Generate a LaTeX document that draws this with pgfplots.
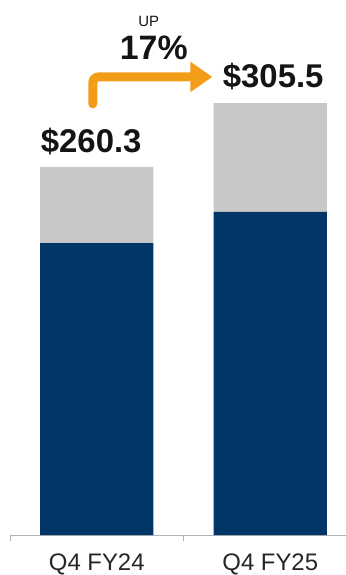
\documentclass[border=0pt]{standalone}
\usepackage{fontspec}
\setmainfont{Liberation Sans}
\usepackage{pgfplots}
\pgfplotsset{compat=1.18}
\usetikzlibrary{arrows.meta}
\definecolor{navy}{RGB}{2,54,103}
\definecolor{lgrey}{RGB}{200,200,200}
\definecolor{orng}{RGB}{243,156,24}
\definecolor{txt}{RGB}{20,20,20}
\begin{document}
\begin{tikzpicture}
\path[use as bounding box] (-10bp,-40bp) rectangle (336bp,535bp);
\begin{axis}[
  at={(0,0)}, anchor=south west,
  scale only axis, width=336bp, height=535bp,
  xmin=-0.5, xmax=1.4366, ymin=0, ymax=378.4,
  ybar stacked, bar width=0.652,
  axis y line=none, axis x line*=bottom,
  axis line style={draw=black!30, line width=0.8bp},
  xtick={0,1}, xticklabels={Q4 FY24, Q4 FY25},
  major tick length=0pt,
  extra x ticks={-0.5,0.5,1.5}, extra x tick labels={},
  extra x tick style={major tick length=6bp, tick align=outside, tick style={draw=black!30, line width=0.8bp}},
  xticklabel style={font=\fontsize{24}{24}\selectfont, text=black!85, anchor=base, yshift=-35.5bp},
  clip=false,
]
\addplot[fill=navy, draw=none] coordinates {(0,206.5) (1,228.5)};
\addplot[fill=lgrey, draw=none] coordinates {(0,53.8) (1,77.0)};
\node[anchor=base, font=\fontsize{33}{33}\selectfont\bfseries, text=txt, inner sep=0pt] at (axis cs:-0.032,270.2) {\$260.3};
\node[anchor=base, font=\fontsize{33}{33}\selectfont\bfseries, text=txt, inner sep=0pt] at (axis cs:1.017,316.2) {\$305.5};
\node[anchor=base, font=\fontsize{34}{34}\selectfont\bfseries, text=txt, inner sep=0pt] at (axis cs:0.3285,336.0) {17\%};
\node[anchor=base, font=\fontsize{15}{15}\selectfont, text=txt, inner sep=0pt] at (axis cs:0.2997,360.0) {UP};
\draw[orng, line width=9bp, line cap=round, rounded corners=6bp, -{Triangle[width=29bp,length=22bp]}] (axis cs:-0.023,304.9) |- (axis cs:0.666,324.0);
\end{axis}
\end{tikzpicture}
\end{document}
